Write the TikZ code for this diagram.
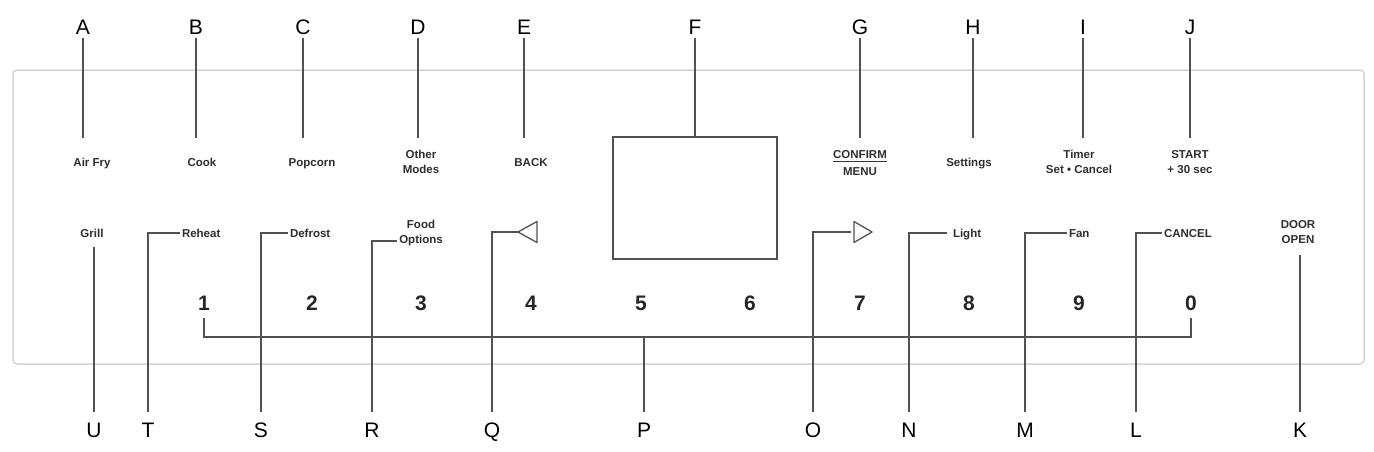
\documentclass[tikz,border=0pt]{standalone}
\usepackage{fontspec}
\setmainfont{Liberation Sans}
\begin{document}
\begin{tikzpicture}[x=1pt,y=-1pt,
  lead/.style={draw=black!68, line width=1.3pt},
  panel/.style={draw=black!17, line width=1.5pt, rounded corners=4pt},
  toplet/.style={inner sep=0pt, outer sep=0pt, outer ysep=3.5pt, text height=15pt, text depth=0pt, font=\fontsize{21}{21}\selectfont},
  botlet/.style={toplet, outer ysep=10.5pt},
  lbl/.style={inner sep=0pt, outer sep=0pt, align=center, text=black!82, font=\fontsize{11.5}{14.5}\selectfont\bfseries},
  sl/.style={lbl, text height=8.3pt, text depth=0pt},
  leftlbl/.style={sl, anchor=west, outer xsep=2pt},
  digit/.style={inner sep=0pt, outer sep=0pt, outer ysep=7.5pt, text height=15pt, text depth=0pt, text=black!85, font=\fontsize{21}{21}\selectfont\bfseries},
]
\useasboundingbox (0,0) rectangle (1374,451);
\draw[panel] (13,70) rectangle (1364,364);

% top letters
\node[toplet] (A) at (83,27) {A};
\node[toplet] (B) at (196,27) {B};
\node[toplet] (C) at (303,27) {C};
\node[toplet] (D) at (418,27) {D};
\node[toplet] (E) at (524,27) {E};
\node[toplet] (F) at (695,27) {F};
\node[toplet] (G) at (860,27) {G};
\node[toplet] (H) at (973,27) {H};
\node[toplet] (I) at (1083,27) {I};
\node[toplet] (J) at (1190,27) {J};

\coordinate (a1) at (83,138);
\coordinate (b1) at (196,138);
\coordinate (c1) at (303,138);
\coordinate (d1) at (418,138);
\coordinate (e1) at (524,138);
\coordinate (g1) at (860,138);
\coordinate (h1) at (973,138);
\coordinate (i1) at (1083,138);
\coordinate (j1) at (1190,138);

\node[draw=black!68, line width=1.3pt, minimum width=164pt, minimum height=122pt, inner sep=0pt] (disp) at (695,198) {};

\foreach \n/\c in {A/a1,B/b1,C/c1,D/d1,E/e1,G/g1,H/h1,I/i1,J/j1}
  \draw[lead] (\n.south) -- (\c);
\draw[lead] (F.south) -- (disp.north);

% top labels
\node[sl] (airfry) at (92,162) {Air Fry};
\node[sl] (cook) at (202,162) {Cook};
\node[sl] (popcorn) at (312,162) {Popcorn};
\node[lbl] (modes) at (421,162) {Other\\Modes};
\node[sl] (back) at (531,162) {BACK};
\node[sl, outer ysep=3.5pt] (confirm) at (860,154) {CONFIRM};
\node[sl] (menu) at (860,171) {MENU};
\draw[draw=black!80, line width=1pt] (confirm.south west) -- (confirm.south east);
\node[sl] (settings) at (969,162) {Settings};
\node[lbl] (timer) at (1079,162) {Timer\\Set • Cancel};
\node[lbl] (start) at (1190,162) {START\\+ 30 sec};

% lower labels
\node[sl] (grill) at (92,233) {Grill};
\node[leftlbl] (reheat) at (180,233) {Reheat};
\node[leftlbl] (defrost) at (288,233) {Defrost};
\node[lbl, outer xsep=2pt] (food) at (421,233) {Food\\Options};
\node[leftlbl, outer xsep=6pt] (light) at (947,233) {Light};
\node[leftlbl] (fan) at (1067,233) {Fan};
\node[leftlbl] (cancel) at (1162,233) {CANCEL};
\node[lbl] (door) at (1298,232) {DOOR\\OPEN};

% digits
\node[digit] (one) at (204,303) {1};
\node[digit] (two) at (312,303) {2};
\node[digit] (three) at (421,303) {3};
\node[digit] (four) at (531,303) {4};
\node[digit] (five) at (641,303) {5};
\node[digit] (six) at (750,303) {6};
\node[digit] (seven) at (860,303) {7};
\node[digit] (eight) at (969,303) {8};
\node[digit] (nine) at (1079,303) {9};
\node[digit] (zero) at (1191,303) {0};

% bottom letters
\node[botlet] (U) at (94,430) {U};
\node[botlet] (T) at (148,430) {T};
\node[botlet] (S) at (261,430) {S};
\node[botlet] (R) at (372,430) {R};
\node[botlet] (Q) at (492,430) {Q};
\node[botlet] (P) at (644,430) {P};
\node[botlet] (O) at (813,430) {O};
\node[botlet] (N) at (909,430) {N};
\node[botlet] (M) at (1025,430) {M};
\node[botlet] (L) at (1136,430) {L};
\node[botlet] (K) at (1300,430) {K};

\coordinate (u1) at (94,247);
\coordinate (k1) at (1300,255);
\coordinate (bus) at (644,337);
\coordinate (qt) at (518,232);
\coordinate (ot) at (851,232);

\draw[lead] (U.north) -- (u1);
\draw[lead] (T.north) |- (reheat.west);
\draw[lead] (S.north) |- (defrost.west);
\draw[lead] (R.north) |- ([yshift=-8pt]food.west);
\draw[lead] (Q.north) |- (qt);
\draw[lead, line join=round] (qt) -- ++(19,-10.5) -- ++(0,21) -- cycle;
\draw[lead] (one.south) |- (bus) -| (zero.south);
\draw[lead] (P.north) -- (bus);
\draw[lead] (O.north) |- (ot);
\draw[lead, line join=round] ([xshift=3pt]ot) -- ++(0,-10.5) -- ++(18,10.5) -- ++(-18,10.5) -- cycle;
\draw[lead] (N.north) |- (light.west);
\draw[lead] (M.north) |- (fan.west);
\draw[lead] (L.north) |- (cancel.west);
\draw[lead] (K.north) -- (k1);
\end{tikzpicture}
\end{document}
